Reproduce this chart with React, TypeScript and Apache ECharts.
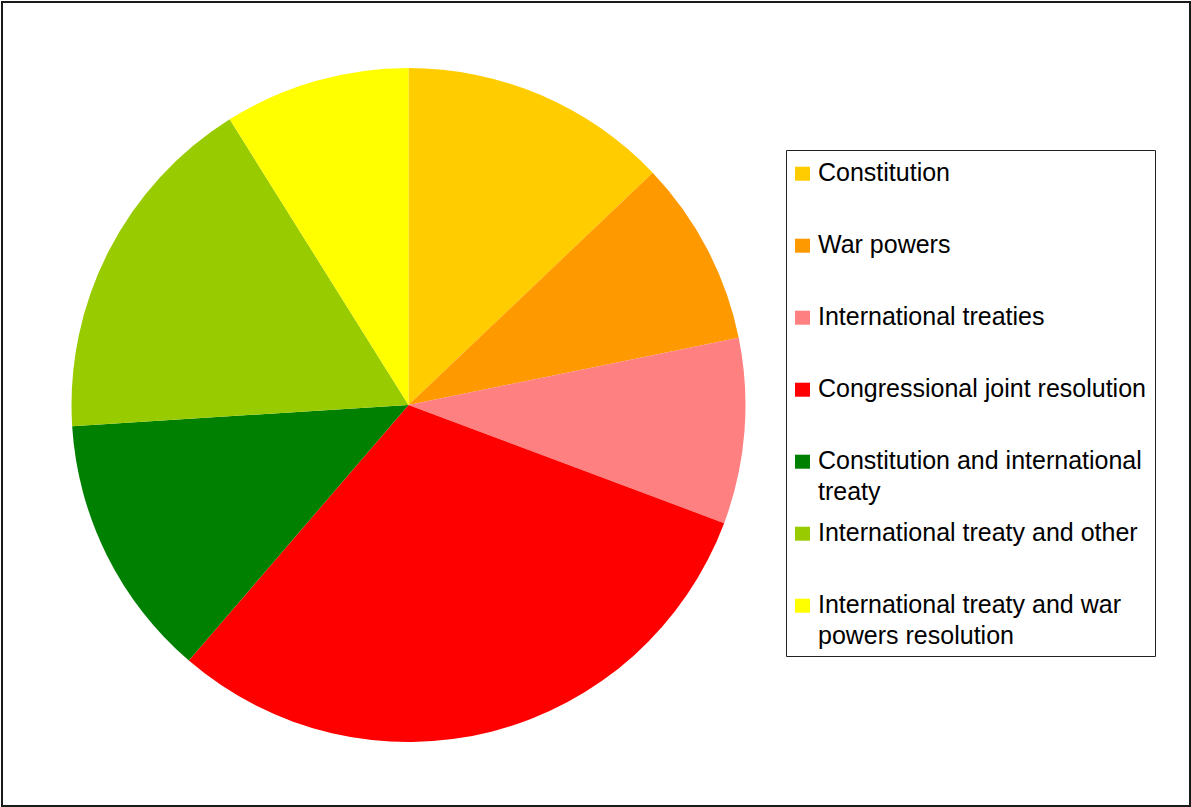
import React, { useEffect, useRef } from "react";
import * as echarts from "echarts";

const categories = [
  "Constitution",
  "War powers",
  "International treaties",
  "Congressional joint resolution",
  "Constitution and international treaty",
  "International treaty and other",
  "International treaty and war powers resolution",
];
const values = [12.9, 8.9, 8.9, 30.6, 12.7, 17.1, 8.9];
const colors = ["#FFCC00", "#FF9900", "#FF8080", "#FF0000", "#008000", "#99CC00", "#FFFF00"];

const FONT = "'Liberation Sans', Arial, sans-serif";

export default function App() {
  const ref = useRef<HTMLDivElement>(null);
  useEffect(() => {
    if (!ref.current) return;
    const chart = echarts.init(ref.current, undefined, { renderer: "svg" });
    const legendTop = 173.7;
    const step = 72;
    const legendEls: any[] = [];
    categories.forEach((name, i) => {
      const cy = legendTop + step * i;
      legendEls.push({
        type: "rect",
        shape: { x: 795, y: cy - 7, width: 15, height: 14 },
        style: { fill: colors[i] },
        silent: true,
        z: 20,
      });
      legendEls.push({
        type: "text",
        x: 818,
        y: cy - 17.2,
        style: {
          text: name,
          fontSize: 25,
          fontFamily: FONT,
          fill: "#000",
          lineHeight: 31,
          width: 335,
          overflow: "break",
          verticalAlign: "top",
          align: "left",
        },
        silent: true,
        z: 20,
      });
    });
    chart.setOption({
      animation: false,
      backgroundColor: "#fff",
      color: colors,
      series: [
        {
          type: "pie",
          center: [408.5, 405],
          radius: 337,
          startAngle: 90,
          clockwise: true,
          label: { show: false },
          labelLine: { show: false },
          emphasis: { disabled: true },
          itemStyle: { borderWidth: 0 },
          data: categories.map((name, i) => ({ name, value: values[i] })),
        },
      ],
      graphic: [
        {
          type: "rect",
          shape: { x: 2, y: 2, width: 1188, height: 804 },
          style: { fill: "none", stroke: "#1a1a1a", lineWidth: 2 },
          silent: true,
          z: 10,
        },
        {
          type: "rect",
          shape: { x: 786.5, y: 150.5, width: 369, height: 506 },
          style: { fill: "none", stroke: "#222", lineWidth: 1 },
          silent: true,
          z: 10,
        },
        ...legendEls,
      ],
    });
    return () => chart.dispose();
  }, []);
  return (
    <div
      ref={ref}
      style={{ position: "absolute", left: 0, top: 0, width: 1191, height: 807 }}
    />
  );
}
